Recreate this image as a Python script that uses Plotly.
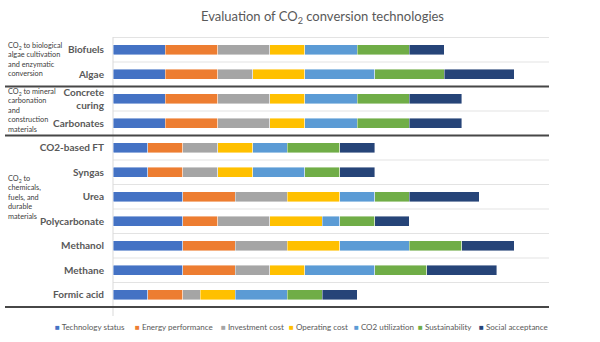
import plotly.graph_objects as go

categories = ["Biofuels", "Algae", "Concrete curing", "Carbonates", "CO2-based FT", "Syngas",
              "Urea", "Polycarbonate", "Methanol", "Methane", "Formic acid"]
tick_labels = ["Biofuels", "Algae", "Concrete<br>curing", "Carbonates", "CO2-based FT", "Syngas",
               "Urea", "Polycarbonate", "Methanol", "Methane", "Formic acid"]

series_names = ["Technology status", "Energy performance", "Investment cost", "Operating cost",
                "CO2 utilization", "Sustainability", "Social acceptance"]
technology_status = [3, 3, 3, 3, 2, 2, 4, 4, 4, 4, 2]
energy_performance = [3, 3, 3, 3, 2, 2, 3, 2, 3, 3, 2]
investment_cost = [3, 2, 3, 3, 2, 2, 3, 3, 3, 2, 1]
operating_cost = [2, 3, 2, 2, 2, 2, 3, 3, 3, 2, 2]
co2_utilization = [3, 4, 3, 3, 2, 3, 2, 1, 4, 4, 3]
sustainability = [3, 4, 3, 3, 3, 2, 2, 2, 3, 3, 2]
social_acceptance = [2, 4, 3, 3, 2, 2, 4, 2, 3, 4, 2]
series_values = [technology_status, energy_performance, investment_cost, operating_cost,
                 co2_utilization, sustainability, social_acceptance]
colors = ["#4472C4", "#ED7D31", "#A5A5A5", "#FFC000", "#5B9BD5", "#70AD47", "#264478"]

group_labels = ["CO<sub>2</sub> to biological<br>algae cultivation<br>and enzymatic<br>conversion",
                "CO<sub>2</sub> to mineral<br>carbonation<br>and<br>construction<br>materials",
                "CO<sub>2</sub> to<br>chemicals,<br>fuels, and<br>durable<br>materials"]
group_bounds = [1.5, 3.5, 10.5]

W, H = 600, 342
L, R, T, B = 113, 51, 37, 34
plot_w = W - L - R
plot_h = H - T - B

def px_x(x):
    return (x - L) / plot_w

def px_y(y):
    return (H - B - y) / plot_h

FONT = "Lato, 'Open Sans', sans-serif"
GRAY = "#595959"

fig = go.Figure()
for name, vals, col in zip(series_names, series_values, colors):
    fig.add_trace(go.Bar(
        y=categories, x=vals, name=name, orientation="h",
        marker=dict(color=col, line=dict(color="rgba(255,255,255,0.7)", width=0.6)),
        showlegend=False,
    ))

shapes = []
# light category separators
for i in range(len(categories) + 1):
    yy = i - 0.5
    shapes.append(dict(type="line", xref="paper", yref="y", x0=0, x1=1, y0=yy, y1=yy,
                       line=dict(color="#E3E3E3", width=1), layer="below"))
# vertical axis line
shapes.append(dict(type="line", xref="paper", yref="paper", x0=0, x1=0, y0=px_y(316), y1=1,
                   line=dict(color="#D9D9D9", width=1), layer="below"))
# thick group separators
for yb in group_bounds:
    shapes.append(dict(type="line", xref="paper", yref="y", x0=px_x(5), x1=1, y0=yb, y1=yb,
                       line=dict(color="#474747", width=2)))

annotations = []
annotations.append(dict(text="Evaluation of CO<sub>2</sub> conversion technologies",
                        xref="paper", yref="paper", x=px_x(322), y=px_y(17),
                        xanchor="center", yanchor="middle", showarrow=False,
                        font=dict(family=FONT, size=13, color=GRAY)))
group_centers = [59.5, 110, 198]
for txt, yc in zip(group_labels, group_centers):
    annotations.append(dict(text=txt, xref="paper", yref="paper", x=px_x(6), y=px_y(yc),
                            xanchor="left", yanchor="middle", align="left", showarrow=False,
                            font=dict(family=FONT, size=7.3, color="#404040")))
legend_x = [52.5, 133, 219, 287, 352, 416, 477]
for name, col, lx in zip(series_names, colors, legend_x):
    annotations.append(dict(text=f'<span style="color:{col}">■</span> {name}',
                            xref="paper", yref="paper", x=px_x(lx), y=px_y(327),
                            xanchor="left", yanchor="middle", showarrow=False,
                            font=dict(family=FONT, size=8, color=GRAY)))

fig.update_layout(
    width=W, height=H,
    margin=dict(l=L, r=R, t=T, b=B),
    barmode="stack", bargap=0.59,
    plot_bgcolor="white", paper_bgcolor="white",
    font=dict(family=FONT, color=GRAY),
    xaxis=dict(range=[0, 25], showgrid=False, showticklabels=False, zeroline=False,
               showline=False, ticks=""),
    yaxis=dict(categoryorder="array", categoryarray=categories, autorange="reversed",
               tickvals=categories, ticktext=[f"<b>{t}</b>" for t in tick_labels],
               tickfont=dict(family=FONT, size=10, color=GRAY),
               showgrid=False, zeroline=False, showline=False, ticks="",
               ticklabelstandoff=8),
    shapes=shapes, annotations=annotations,
    showlegend=False,
)

fig.write_html("out.html")
